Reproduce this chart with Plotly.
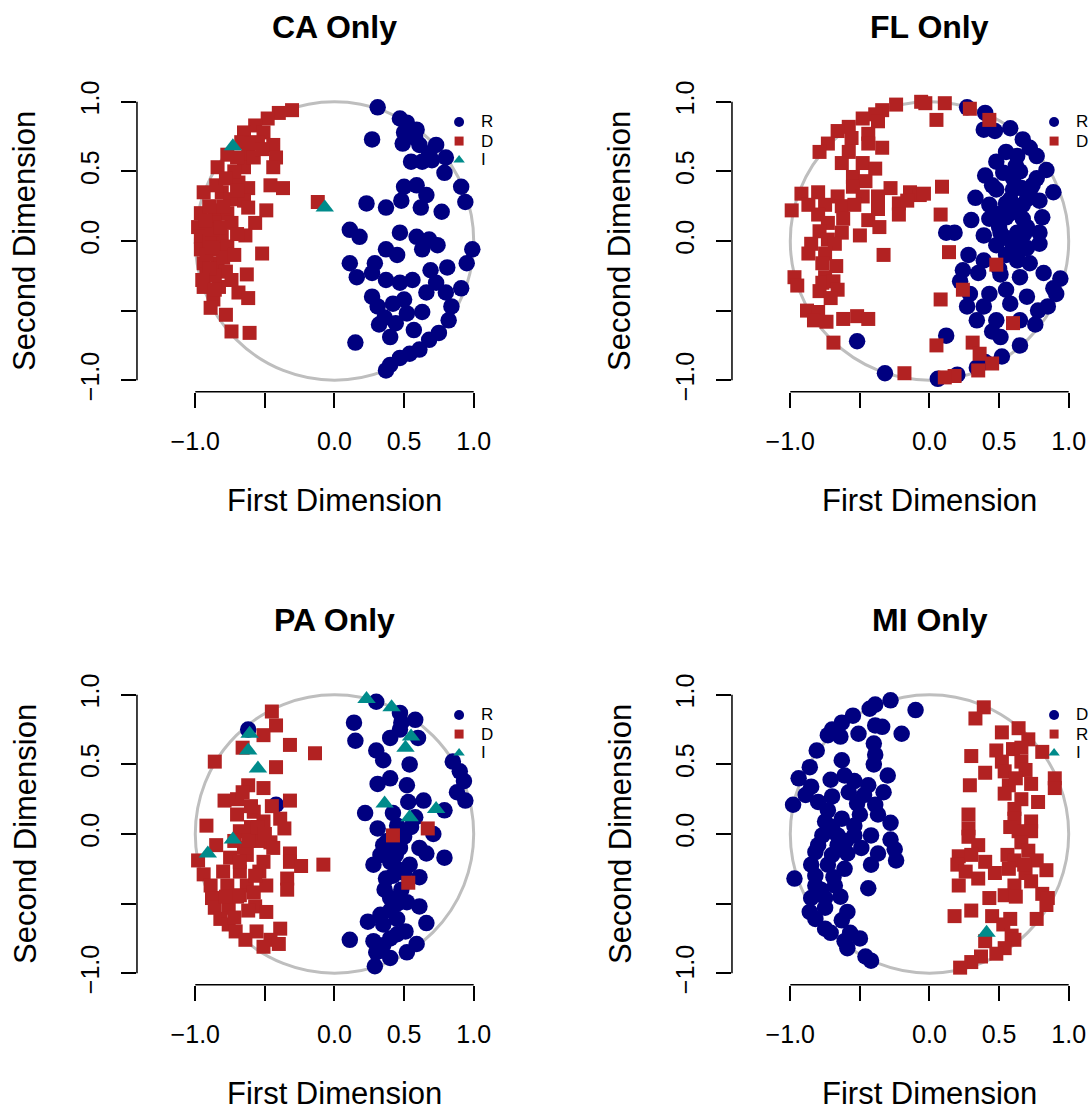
import plotly.graph_objects as go

W, H = 1091, 1112
NAVY = "#000080"
RED = "#B22222"
TEAL = "#008B8B"
GREY = "#BEBEBE"
FONT = "Liberation Sans, Arial, Helvetica, sans-serif"

TITLES = ["CA Only", "FL Only", "PA Only", "MI Only"]
X_TITLE = "First Dimension"
Y_TITLE = "Second Dimension"
TICK_VALS = [-1.0, -0.5, 0.0, 0.5, 1.0]
TICK_TEXT = ["\u22121.0", "", "0.0", "0.5", "1.0"]

# ---------------- data (first dim, second dim) ----------------
CA_NAVY = [(0.31,0.96),(0.27,0.73),(0.47,0.88),(0.52,0.85),(0.59,0.80),(0.50,0.78),(0.49,0.70),(0.61,0.69),
           (0.73,0.69),(0.68,0.63),(0.80,0.60),(0.55,0.57),(0.63,0.57),(0.79,0.49),(0.91,0.39),(0.94,0.28),
           (0.50,0.39),(0.59,0.40),(0.66,0.33),(0.48,0.29),(0.37,0.24),(0.62,0.24),(0.77,0.21),(0.23,0.27),
           (0.11,0.08),(0.18,0.03),(0.47,0.06),(0.59,0.03),(0.68,0.01),(0.74,-0.03),(0.63,-0.06),(0.37,-0.06),
           (0.45,-0.10),(0.99,-0.06),(0.95,-0.16),(0.11,-0.16),(0.16,-0.26),(0.29,-0.16),(0.27,-0.23),(0.37,-0.28),
           (0.47,-0.30),(0.56,-0.28),(0.69,-0.21),(0.81,-0.19),(0.73,-0.30),(0.91,-0.34),(0.80,-0.37),(0.66,-0.37),
           (0.27,-0.40),(0.31,-0.47),(0.50,-0.42),(0.52,-0.52),(0.63,-0.51),(0.84,-0.47),(0.82,-0.57),(0.44,-0.59),
           (0.32,-0.60),(0.57,-0.64),(0.40,-0.69),(0.75,-0.66),(0.68,-0.71),(0.15,-0.73),(0.61,-0.78),(0.54,-0.81),
           (0.47,-0.84),(0.40,-0.89),(0.37,-0.93),(0.42,-0.45),(0.36,-0.55),(0.58,0.74),(0.70,0.58)]
CA_RED = [(-0.305,0.94),(-0.40,0.92),(-0.48,0.88),(-0.57,0.83),(-0.65,0.78),(-0.51,0.78),(-0.67,0.71),(-0.55,0.71),
          (-0.44,0.69),(-0.77,0.62),(-0.62,0.62),(-0.42,0.60),(-0.84,0.53),(-0.65,0.53),(-0.44,0.53),(-0.69,0.42),
          (-0.62,0.38),(-0.46,0.40),(-0.37,0.38),(-0.94,0.35),(-0.81,0.35),(-0.65,0.29),(-0.49,0.22),(-0.86,0.22),
          (-0.62,0.24),(-0.96,0.20),(-0.77,0.20),(-0.98,0.10),(-0.86,0.13),(-0.74,0.13),(-0.57,0.13),(-0.64,0.04),
          (-0.96,0.03),(-0.81,0.03),(-0.96,-0.06),(-0.84,-0.06),(-0.77,-0.04),(-0.52,-0.09),(-0.94,-0.16),(-0.84,-0.16),
          (-0.78,-0.22),(-0.92,-0.24),(-0.63,-0.24),(-0.94,-0.33),(-0.83,-0.33),(-0.69,-0.37),(-0.62,-0.41),(-0.87,-0.42),
          (-0.89,-0.48),(-0.78,-0.53),(-0.74,-0.65),(-0.61,-0.66),(-0.12,0.28),(-0.90,0.00),(-0.92,-0.10),(-0.88,0.08),
          (-0.80,-0.12),(-0.72,0.50),(-0.58,0.60),(-0.70,0.60),(-0.75,0.30),(-0.90,0.25),(-0.86,-0.25),(-0.80,0.25),
          (-0.70,0.05),(-0.72,-0.10),(-0.93,0.15),(-0.88,-0.05),(-0.90,-0.20),(-0.85,0.40),(-0.95,-0.28),(-0.82,0.10),
          (-0.86,-0.35),(-0.78,0.45),(-0.60,0.70),(-0.52,0.66),(-0.70,0.36),(-0.74,-0.28)]
CA_TEAL = [(-0.73,0.68),(-0.07,0.24)]

FL_NAVY = [(-0.52,-0.72),(-0.32,-0.95),(0.27,0.96),(0.40,0.92),(0.39,0.80),(0.47,0.79),(0.58,0.81),(0.67,0.73),
           (0.72,0.67),(0.77,0.61),(0.55,0.64),(0.63,0.61),(0.48,0.57),(0.84,0.51),(0.40,0.47),(0.53,0.49),
           (0.65,0.50),(0.77,0.45),(0.89,0.35),(0.48,0.37),(0.60,0.37),(0.72,0.34),(0.33,0.31),(0.43,0.26),
           (0.55,0.27),(0.67,0.26),(0.79,0.29),(0.30,0.15),(0.43,0.16),(0.55,0.17),(0.67,0.16),(0.81,0.17),
           (0.12,0.06),(0.18,0.06),(0.39,0.04),(0.51,0.06),(0.63,0.06),(0.79,0.06),(0.79,-0.02),(0.48,-0.03),
           (0.60,-0.04),(0.28,-0.10),(0.39,-0.14),(0.63,-0.14),(0.72,-0.16),(0.24,-0.21),(0.35,-0.23),(0.51,-0.24),
           (0.65,-0.26),(0.82,-0.23),(0.94,-0.27),(0.22,-0.29),(0.89,-0.34),(0.29,-0.38),(0.43,-0.38),(0.91,-0.38),
           (0.27,-0.47),(0.39,-0.47),(0.58,-0.45),(0.85,-0.47),(0.34,-0.57),(0.48,-0.57),(0.65,-0.57),(0.76,-0.60),
           (0.12,-0.68),(0.51,-0.69),(0.65,-0.75),(0.52,-0.83),(0.40,-0.87),(0.34,-0.91),(0.06,-0.99),(0.20,-0.96),
           (0.58,0.20),(0.62,0.00),(0.55,-0.10),(0.70,0.10),(0.50,0.10),(0.60,0.45),(0.45,0.40),(0.66,0.38),
           (0.52,0.20),(0.70,-0.05),(0.58,0.30),(0.62,0.22),(0.68,0.05),(0.56,0.02),(0.64,-0.08),(0.46,0.20),
           (0.70,0.30),(0.74,0.40),(0.62,0.54),(0.50,-0.20),(0.55,-0.35),(0.70,-0.40),(0.78,-0.50),(0.45,-0.65)]
FL_RED = [(-0.06,1.00),(-0.24,0.98),(-0.34,0.94),(-0.39,0.91),(-0.48,0.88),(-0.37,0.86),(-0.58,0.82),(-0.66,0.79),
          (-0.44,0.77),(-0.56,0.74),(-0.73,0.70),(-0.44,0.70),(-0.34,0.67),(-0.79,0.64),(-0.58,0.64),(-0.63,0.56),
          (-0.48,0.56),(-0.39,0.52),(-0.55,0.46),(-0.46,0.43),(-0.55,0.39),(-0.28,0.38),(-0.92,0.34),(-0.80,0.35),
          (-0.66,0.32),(-0.48,0.32),(-0.37,0.32),(-0.14,0.35),(-0.07,0.33),(-0.22,0.27),(-0.16,0.29),(-0.87,0.26),
          (-0.75,0.26),(-0.63,0.25),(-0.54,0.26),(-0.99,0.22),(-0.37,0.23),(-0.80,0.19),(-0.62,0.16),(-0.44,0.15),
          (-0.22,0.19),(-0.73,0.13),(-0.36,0.10),(-0.79,0.07),(-0.63,0.06),(-0.50,0.04),(-0.73,0.01),(-0.85,-0.02),
          (-0.68,-0.02),(-0.87,-0.09),(-0.75,-0.09),(-0.33,-0.10),(-0.77,-0.16),(-0.67,-0.18),(-0.97,-0.26),(-0.75,-0.26),
          (-0.95,-0.32),(-0.77,-0.30),(-0.69,-0.29),(-0.79,-0.36),(-0.66,-0.35),(-0.71,-0.41),(-0.88,-0.50),(-0.80,-0.51),
          (-0.83,-0.57),(-0.74,-0.58),(-0.62,-0.56),(-0.52,-0.54),(-0.44,-0.56),(-0.69,-0.73),(-0.18,-0.95),
          (-0.03,0.99),(0.11,0.99),(0.05,0.87),(0.29,0.95),(0.43,0.87),(0.09,0.39),(-0.04,0.34),(0.08,0.19),
          (0.14,-0.08),(0.48,-0.17),(0.24,-0.35),(0.08,-0.42),(0.60,-0.59),(0.05,-0.75),(0.31,-0.73),(0.36,-0.81),
          (0.45,-0.88),(0.35,-0.93),(0.18,-0.97),(0.11,-0.98)]
FL_TEAL = []

PA_NAVY = [(-0.62,0.75),(-0.42,0.21),(0.30,0.95),(0.14,0.80),(0.15,0.67),(0.47,0.87),(0.58,0.82),(0.48,0.80),
           (0.40,0.69),(0.60,0.69),(0.30,0.60),(0.35,0.53),(0.54,0.50),(0.31,0.36),(0.52,0.35),(0.85,0.52),
           (0.90,0.45),(0.93,0.38),(0.94,0.24),(0.88,0.30),(0.22,0.15),(0.53,0.23),(0.64,0.24),(0.79,0.17),
           (0.31,0.04),(0.45,0.06),(0.71,0.00),(0.35,-0.08),(0.47,-0.10),(0.61,-0.10),(0.28,-0.22),(0.40,-0.20),
           (0.54,-0.22),(0.66,-0.14),(0.79,-0.17),(0.37,-0.32),(0.61,-0.31),(0.40,-0.46),(0.52,-0.49),(0.61,-0.52),
           (0.33,-0.58),(0.24,-0.63),(0.45,-0.61),(0.66,-0.64),(0.51,-0.70),(0.11,-0.76),(0.28,-0.77),(0.40,-0.75),
           (0.59,-0.79),(0.30,-0.85),(0.52,-0.85),(0.40,-0.89),(0.29,-0.95),(0.42,0.15),(0.50,-0.02),(0.44,-0.15),
           (0.50,-0.28),(0.48,-0.40),(0.36,-0.40),(0.45,-0.50),(0.35,-0.65),(0.55,0.05),(0.40,0.40),(0.47,0.75),
           (0.58,0.12),(0.42,-0.30),(0.36,-0.10),(0.38,-0.05),(0.45,-0.25),(0.33,-0.15),(0.48,0.02),(0.40,-0.55),
           (0.35,-0.80),(0.45,-0.72)]
PA_RED = [(-0.45,0.88),(-0.42,0.78),(-0.51,0.71),(-0.32,0.64),(-0.14,0.58),(-0.86,0.52),(-0.42,0.48),(-0.66,0.62),
          (-0.62,0.35),(-0.51,0.33),(-0.32,0.24),(-0.79,0.24),(-0.70,0.25),(-0.92,0.06),(-0.70,0.14),(-0.58,0.16),
          (-0.51,0.09),(-0.39,0.11),(-0.36,0.04),(-0.68,0.02),(-0.58,-0.01),(-0.46,-0.06),(-0.85,-0.08),(-0.44,-0.10),
          (-0.32,-0.14),(-0.98,-0.19),(-0.75,-0.17),(-0.63,-0.15),(-0.51,-0.20),(-0.32,-0.20),(-0.24,-0.23),(-0.08,-0.22),
          (-0.94,-0.29),(-0.80,-0.27),(-0.68,-0.27),(-0.54,-0.27),(-0.34,-0.32),(-0.89,-0.37),(-0.77,-0.37),(-0.63,-0.37),
          (-0.49,-0.37),(-0.34,-0.40),(-0.88,-0.46),(-0.68,-0.44),(-0.86,-0.53),(-0.76,-0.53),(-0.57,-0.52),(-0.49,-0.56),
          (-0.82,-0.61),(-0.76,-0.65),(-0.71,-0.70),(-0.56,-0.70),(-0.39,-0.68),(-0.64,-0.76),(-0.46,-0.76),(-0.51,-0.81),
          (-0.40,-0.79),(-0.60,0.05),(-0.55,-0.05),(-0.65,-0.10),(-0.60,0.20),(-0.45,0.20),(-0.72,-0.05),(-0.57,-0.30),
          (-0.70,-0.45),(-0.62,-0.55),(0.42,-0.01),(0.67,0.04),(0.53,-0.35),(-0.62,-0.05),(-0.55,0.05),(-0.68,-0.20),
          (-0.58,-0.42),(-0.78,-0.45),(-0.72,-0.60),(-0.66,0.30),(-0.50,0.00)]
PA_TEAL = [(-0.61,0.72),(-0.62,0.60),(-0.55,0.47),(-0.73,-0.04),(-0.91,-0.14),(0.23,0.97),(0.41,0.91),(0.55,0.70),
           (0.51,0.62),(0.36,0.22),(0.54,0.12),(0.73,0.18)]

MI_NAVY = [(-0.28,0.96),(-0.39,0.93),(-0.43,0.90),(-0.10,0.89),(-0.55,0.85),(-0.63,0.80),(-0.70,0.75),(-0.73,0.71),
           (-0.64,0.70),(-0.51,0.72),(-0.39,0.78),(-0.34,0.77),(-0.20,0.72),(-0.40,0.65),(-0.39,0.57),(-0.40,0.50),
           (-0.81,0.60),(-0.63,0.53),(-0.86,0.48),(-0.30,0.42),(-0.94,0.40),(-0.71,0.39),(-0.61,0.42),(-0.54,0.38),
           (-0.44,0.35),(-0.85,0.34),(-0.33,0.30),(-0.89,0.28),(-0.70,0.27),(-0.98,0.21),(-0.80,0.23),(-0.52,0.22),
           (-0.39,0.21),(-0.73,0.17),(-0.63,0.11),(-0.50,0.14),(-0.37,0.14),(-0.75,0.09),(-0.54,0.06),(-0.28,0.08),
           (-0.77,-0.01),(-0.66,-0.01),(-0.54,-0.01),(-0.42,-0.01),(-0.80,-0.08),(-0.66,-0.08),(-0.49,-0.10),(-0.28,-0.04),
           (-0.82,-0.13),(-0.70,-0.15),(-0.59,-0.14),(-0.37,-0.14),(-0.25,-0.11),(-0.24,-0.19),(-0.85,-0.22),(-0.73,-0.22),
           (-0.61,-0.25),(-0.42,-0.22),(-0.97,-0.32),(-0.82,-0.30),(-0.69,-0.31),(-0.82,-0.37),(-0.68,-0.37),(-0.44,-0.39),
           (-0.85,-0.46),(-0.75,-0.46),(-0.64,-0.45),(-0.86,-0.56),(-0.75,-0.53),(-0.59,-0.56),(-0.82,-0.61),(-0.63,-0.62),
           (-0.75,-0.68),(-0.71,-0.71),(-0.57,-0.71),(-0.50,-0.75),(-0.61,-0.77),(-0.59,-0.82),(-0.46,-0.88),(-0.42,-0.91),
           (-0.58,0.30),(-0.47,0.28),(-0.60,-0.05),(-0.78,-0.40),(-0.70,0.05)]
MI_RED = [(0.39,0.91),(0.33,0.83),(0.52,0.73),(0.64,0.76),(0.71,0.68),(0.81,0.59),(0.48,0.60),(0.60,0.61),
          (0.30,0.56),(0.52,0.52),(0.66,0.52),(0.40,0.44),(0.54,0.45),(0.69,0.46),(0.90,0.40),(0.90,0.33),
          (0.29,0.35),(0.57,0.35),(0.73,0.36),(0.54,0.29),(0.66,0.25),(0.78,0.23),(0.61,0.18),(0.28,0.14),
          (0.61,0.11),(0.73,0.09),(0.28,0.04),(0.64,0.02),(0.73,0.02),(0.28,-0.02),(0.35,-0.08),(0.66,-0.06),
          (0.21,-0.16),(0.30,-0.15),(0.56,-0.15),(0.71,-0.12),(0.40,-0.20),(0.61,-0.19),(0.77,-0.19),(0.20,-0.22),
          (0.84,-0.26),(0.26,-0.27),(0.35,-0.32),(0.47,-0.28),(0.57,-0.25),(0.69,-0.28),(0.21,-0.37),(0.61,-0.37),
          (0.73,-0.34),(0.43,-0.46),(0.54,-0.44),(0.62,-0.45),(0.81,-0.43),(0.85,-0.46),(0.84,-0.51),(0.18,-0.59),
          (0.30,-0.55),(0.45,-0.59),(0.58,-0.61),(0.77,-0.61),(0.53,-0.65),(0.59,-0.73),(0.61,-0.76),(0.40,-0.77),
          (0.54,-0.82),(0.48,-0.86),(0.37,-0.88),(0.30,-0.92),(0.22,-0.96),(0.62,0.40),(0.66,0.62),(0.58,0.05),
          (0.68,-0.22)]
MI_TEAL = [(0.41,-0.71)]

PANEL_DATA = [(CA_NAVY, CA_RED, CA_TEAL), (FL_NAVY, FL_RED, FL_TEAL),
              (PA_NAVY, PA_RED, PA_TEAL), (MI_NAVY, MI_RED, MI_TEAL)]
LEGEND_LABELS = [["R", "D", "I"], ["R", "D"], ["R", "D", "I"], ["D", "R", "I"]]

# ---------------- layout geometry (pixels) ----------------
BASE_CX, BASE_CY = 334.5, 241.0
SCALE = 139.2          # px per data unit
X_HALF = 1.419         # plot region half-width in data units
Y_HALF = 1.083         # plot region half-height in data units
OFFSETS = [(0, 0), (595, 0), (0, 593), (595, 593)]
LEG_X = 0.895
LEG_Y = [0.855, 0.718, 0.582]

STYLES = [(NAVY, "circle", 16.5, 10), (RED, "square", 14, 9), (TEAL, "triangle-up", 16, 10)]

fig = go.Figure()
layout = dict(template="none", width=W, height=H,
              margin=dict(l=0, r=0, t=0, b=0, pad=0, autoexpand=False), autosize=False,
              paper_bgcolor="white", plot_bgcolor="white", showlegend=False,
              font=dict(family=FONT, color="black"))
shapes = []
annotations = []

for i in range(4):
    n = "" if i == 0 else str(i + 1)
    xa, ya = "x" + n, "y" + n
    ox, oy = OFFSETS[i]
    cx, cy = BASE_CX + ox, BASE_CY + oy
    left = cx - X_HALF * SCALE
    right = min(cx + X_HALF * SCALE, W)
    top = cy - Y_HALF * SCALE
    bottom = cy + Y_HALF * SCALE
    xr = [-X_HALF, (right - cx) / SCALE]

    axis_common = dict(showgrid=False, zeroline=False, showline=False, ticks="outside",
                       ticklen=15, tickwidth=1.5, tickcolor="black", tickvals=TICK_VALS,
                       ticktext=TICK_TEXT, tickfont=dict(size=25, family=FONT, color="black"),
                       fixedrange=True, automargin=False)
    layout["xaxis" + n] = dict(domain=[left / W, right / W], range=xr, anchor=ya,
                               ticklabelstandoff=12, **axis_common)
    layout["yaxis" + n] = dict(domain=[1 - bottom / H, 1 - top / H], range=[-Y_HALF, Y_HALF],
                               anchor=xa, tickangle=-90, ticklabelstandoff=12, **axis_common)

    # unit circle and axis lines
    shapes.append(dict(type="circle", xref=xa, yref=ya, x0=-1, y0=-1, x1=1, y1=1,
                       line=dict(color=GREY, width=3), layer="below"))
    shapes.append(dict(type="line", xref=xa, yref=ya + " domain", x0=-1, x1=1, y0=0, y1=0,
                       line=dict(color="black", width=1.5)))
    shapes.append(dict(type="line", xref=xa + " domain", yref=ya, x0=0, x1=0, y0=-1, y1=1,
                       line=dict(color="black", width=1.5)))

    for pts, (col, sym, size, _) in zip(PANEL_DATA[i], STYLES):
        if not pts:
            continue
        fig.add_trace(go.Scatter(x=[p[0] for p in pts], y=[p[1] for p in pts], mode="markers",
                                 xaxis=xa, yaxis=ya, cliponaxis=False, hoverinfo="skip",
                                 marker=dict(color=col, symbol=sym, size=size, line=dict(width=0))))

    # legend keys
    for k, lab in enumerate(LEGEND_LABELS[i]):
        col, sym, _, lsize = STYLES[k]
        fig.add_trace(go.Scatter(x=[LEG_X], y=[LEG_Y[k]], mode="markers", xaxis=xa, yaxis=ya,
                                 cliponaxis=False, hoverinfo="skip",
                                 marker=dict(color=col, symbol=sym, size=lsize, line=dict(width=0))))
        annotations.append(dict(x=LEG_X + 0.145, y=LEG_Y[k], xref=xa, yref=ya, text=lab,
                                showarrow=False, xanchor="left", yanchor="middle",
                                font=dict(size=17, family=FONT, color="black")))

    # titles
    annotations.append(dict(x=cx / W, y=1 - (oy + 27) / H, xref="paper", yref="paper",
                            text="<b>" + TITLES[i] + "</b>", showarrow=False,
                            xanchor="center", yanchor="middle",
                            font=dict(size=32, family=FONT, color="black")))
    annotations.append(dict(x=cx / W, y=1 - (oy + 500) / H, xref="paper", yref="paper",
                            text=X_TITLE, showarrow=False, xanchor="center", yanchor="middle",
                            font=dict(size=31, family=FONT, color="black")))
    annotations.append(dict(x=(ox + 25) / W, y=1 - cy / H, xref="paper", yref="paper",
                            text=Y_TITLE, showarrow=False, xanchor="center", yanchor="middle",
                            textangle=-90, font=dict(size=31, family=FONT, color="black")))

layout["shapes"] = shapes
layout["annotations"] = annotations
fig.update_layout(**layout)
fig.write_html("out.html")
